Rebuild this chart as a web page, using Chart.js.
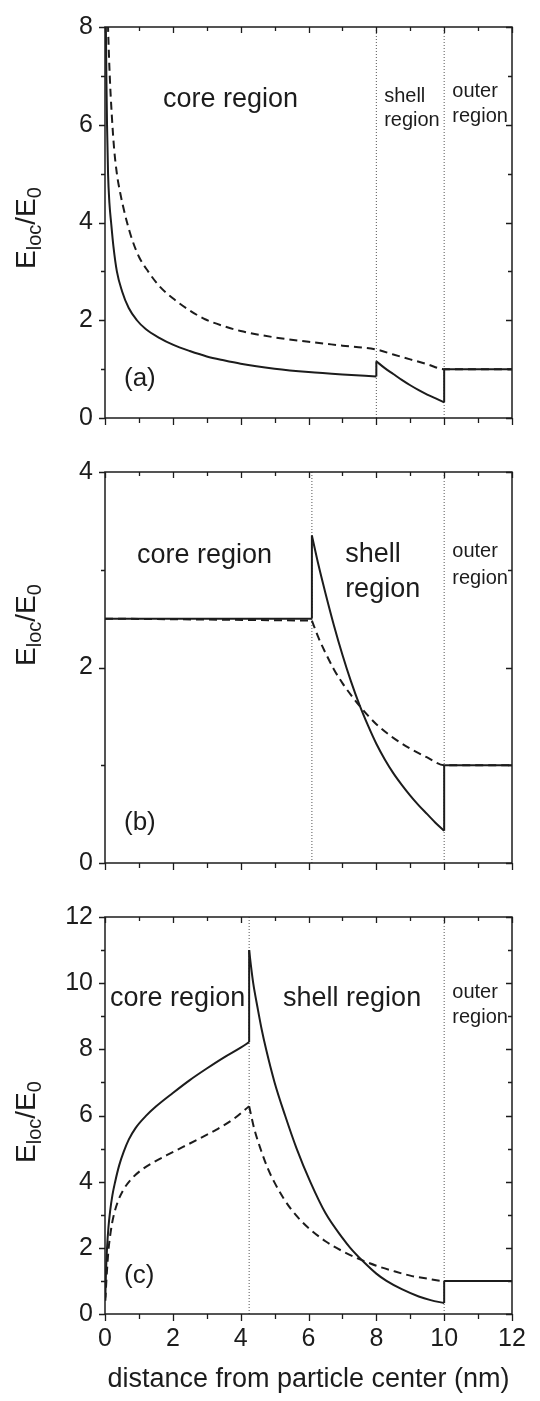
<!DOCTYPE html>
<html>
<head>
<meta charset="utf-8">
<script src="https://cdn.jsdelivr.net/npm/chart.js@4.4.1/dist/chart.umd.min.js"></script>
<style>
  html, body { margin: 0; padding: 0; background: #fff; }
  #wrap { position: relative; width: 540px; height: 1401px; }
  canvas { position: absolute; left: 0; }
</style>
</head>
<body>
<div id="wrap">
  <canvas id="panelA" width="540" height="445" style="top:0px"></canvas>
  <canvas id="panelB" width="540" height="445" style="top:445px"></canvas>
  <canvas id="panelC" width="540" height="511" style="top:890px"></canvas>
</div>
<script>
// tick labels
const xTicks = [0, 2, 4, 6, 8, 10, 12];
const yTicksA = [0, 2, 4, 6, 8];
const yTicksB = [0, 2, 4];
const yTicksC = [0, 2, 4, 6, 8, 10, 12];

// region boundaries (nm)
const aBounds = [8, 10];
const bBounds = [6.1, 10];
const cBounds = [4.25, 10];

// (a)  -- a repeated x marks a step at a region boundary
const aSolidX = [0.02, 0.04, 0.06, 0.09, 0.13, 0.18, 0.25, 0.35, 0.5, 0.7, 0.94, 1.2, 1.6, 2.0, 2.5, 3.0, 3.5, 4.0, 5.0, 6.0, 7.0, 8.0, 8.0, 8.25, 8.5, 8.75, 9.0, 9.25, 9.5, 9.75, 10.0, 10.0, 12.0];
const aSolidY = [8.4, 7.0, 6.0, 5.0, 4.4, 4.0, 3.5, 3.0, 2.6, 2.25, 2.0, 1.82, 1.64, 1.5, 1.37, 1.26, 1.18, 1.11, 1.01, 0.94, 0.89, 0.85, 1.16, 1.02, 0.9, 0.78, 0.67, 0.57, 0.48, 0.4, 0.32, 1.0, 1.0];
const aDashX = [0.07, 0.09, 0.14, 0.2, 0.27, 0.35, 0.45, 0.55, 0.65, 0.8, 1.0, 1.27, 1.6, 2.0, 2.5, 2.95, 3.5, 4.0, 5.0, 6.0, 7.0, 8.0, 8.5, 9.0, 9.5, 10.0, 12.0];
const aDashY = [8.6, 8.0, 7.0, 6.2, 5.5, 5.0, 4.6, 4.28, 4.0, 3.65, 3.3, 3.0, 2.7, 2.45, 2.2, 2.02, 1.88, 1.78, 1.65, 1.56, 1.48, 1.40, 1.3, 1.2, 1.1, 1.0, 1.0];

// (b)
const bSolidX = [0, 6.1, 6.1, 6.3, 6.5, 6.75, 7.0, 7.25, 7.5, 7.75, 8.0, 8.25, 8.5, 8.75, 9.0, 9.25, 9.5, 9.75, 10.0, 10.0, 12.0];
const bSolidY = [2.5, 2.5, 3.35, 3.04, 2.76, 2.43, 2.13, 1.86, 1.62, 1.41, 1.22, 1.06, 0.92, 0.80, 0.69, 0.59, 0.50, 0.41, 0.33, 1.0, 1.0];
const bDashX = [0, 6.1, 6.1, 6.3, 6.5, 6.75, 7.0, 7.25, 7.5, 7.75, 8.0, 8.5, 9.0, 9.5, 10.0, 12.0];
const bDashY = [2.5, 2.48, 2.48, 2.30, 2.15, 1.98, 1.84, 1.72, 1.61, 1.51, 1.42, 1.28, 1.17, 1.08, 1.0, 1.0];

// (c)
const cSolidX = [0.01, 0.03, 0.06, 0.1, 0.15, 0.22, 0.3, 0.42, 0.55, 0.7, 0.9, 1.2, 1.5, 2.0, 2.5, 3.0, 3.5, 4.0, 4.25, 4.25, 4.3, 4.37, 4.5, 4.62, 4.75, 5.0, 5.31, 5.65, 6.05, 6.5, 7.0, 7.23, 7.6, 8.0, 8.3, 8.75, 9.25, 9.6, 10.0, 10.0, 12.0];
const cSolidY = [0.5, 1.3, 2.0, 2.6, 3.1, 3.6, 4.0, 4.5, 4.9, 5.27, 5.62, 5.98, 6.27, 6.68, 7.07, 7.42, 7.75, 8.05, 8.22, 11.0, 10.55, 10.0, 9.25, 8.6, 8.0, 7.0, 6.0, 5.0, 4.0, 3.05, 2.3, 2.0, 1.6, 1.22, 1.0, 0.75, 0.53, 0.42, 0.33, 1.0, 1.0];
const cDashX = [0.01, 0.04, 0.1, 0.17, 0.25, 0.38, 0.54, 0.75, 1.03, 1.4, 1.82, 2.3, 2.8, 3.3, 3.8, 4.25, 4.25, 4.4, 4.6, 4.8, 5.0, 5.25, 5.5, 5.75, 6.0, 6.5, 7.0, 7.5, 8.0, 8.5, 9.0, 9.5, 10.0, 12.0];
const cDashY = [0.4, 1.0, 1.9, 2.5, 2.95, 3.4, 3.75, 4.05, 4.32, 4.57, 4.8, 5.05, 5.31, 5.58, 5.9, 6.28, 6.28, 5.6, 4.95, 4.4, 3.97, 3.52, 3.15, 2.85, 2.6, 2.2, 1.9, 1.66, 1.46, 1.3, 1.16, 1.07, 1.0, 1.0];

const INK = '#1c1c1c';
const FONT = '"Liberation Sans", Arial, Helvetica, sans-serif';

// split a curve into smooth pieces, with the vertical steps as their own pieces
function segments(xs, ys) {
  const segs = [[]];
  xs.forEach((x, i) => {
    if (i > 0 && x === xs[i - 1]) {
      if (ys[i] !== ys[i - 1]) segs.push([{ x, y: ys[i - 1] }, { x, y: ys[i] }]);
      segs.push([]);
    }
    segs[segs.length - 1].push({ x, y: ys[i] });
  });
  return segs.filter(s => s.length > 1);
}

// major ticks plus a minor tick halfway between each pair
function withMinors(major) {
  const out = [];
  major.forEach((v, i) => {
    out.push({ v, major: true });
    if (i < major.length - 1) out.push({ v: (v + major[i + 1]) / 2, major: false });
  });
  return out;
}

// box frame, in/out tick marks, region texts and the subscripted y title
const framePlugin = {
  id: 'frame',
  afterDatasetsDraw(chart, args, opts) {
    const { ctx, chartArea: a, scales: { x, y } } = chart;
    ctx.save();
    ctx.strokeStyle = INK;
    ctx.lineWidth = 1.5;
    ctx.strokeRect(a.left, a.top, a.right - a.left, a.bottom - a.top);

    ctx.lineWidth = 1.3;
    ctx.beginPath();
    withMinors(xTicks).forEach(t => {
      const p = Math.round(x.getPixelForValue(t.v)) + 0.5;
      ctx.moveTo(p, a.bottom); ctx.lineTo(p, a.bottom + (t.major ? 7 : 5));
      ctx.moveTo(p, a.top); ctx.lineTo(p, a.top + (t.major ? 6 : 4));
    });
    withMinors(opts.yTicks).forEach(t => {
      const p = Math.round(y.getPixelForValue(t.v)) + 0.5;
      ctx.moveTo(a.left, p); ctx.lineTo(a.left - (t.major ? 6 : 4), p);
      ctx.moveTo(a.right, p); ctx.lineTo(a.right - (t.major ? 6 : 4), p);
    });
    ctx.stroke();

    ctx.fillStyle = INK;
    ctx.textAlign = 'left';
    ctx.textBaseline = 'middle';
    opts.labels.forEach(l => {
      ctx.font = `${l.size}px ${FONT}`;
      ctx.fillText(l.text, x.getPixelForValue(l.x), y.getPixelForValue(l.y));
    });

    // E_loc / E_0, rotated
    const big = `28px ${FONT}`, small = `20px ${FONT}`;
    const parts = [['E', big, 0], ['loc', small, 6], ['/E', big, 0], ['0', small, 6]];
    ctx.textBaseline = 'alphabetic';
    let w = 0;
    parts.forEach(p => { ctx.font = p[1]; w += ctx.measureText(p[0]).width; });
    ctx.translate(35, opts.titleY);
    ctx.rotate(-Math.PI / 2);
    let cx = -w / 2;
    parts.forEach(p => {
      ctx.font = p[1];
      ctx.fillText(p[0], cx, p[2]);
      cx += ctx.measureText(p[0]).width;
    });
    ctx.restore();
  }
};

function boundaryLines(bounds, yMax) {
  return bounds.map(b => ({
    data: [{ x: b, y: 0 }, { x: b, y: yMax }],
    borderColor: '#555',
    borderWidth: 1,
    borderDash: [1, 2],
    pointRadius: 0,
    showLine: true,
  }));
}

function makePanel(id, cfg) {
  const yMax = cfg.yTicks[cfg.yTicks.length - 1];
  const line = { borderColor: INK, borderWidth: 2, pointRadius: 0, showLine: true, cubicInterpolationMode: 'monotone' };
  const datasets = [
    ...segments(cfg.solidX, cfg.solidY).map(seg => ({ ...line, data: seg })),
    ...segments(cfg.dashX, cfg.dashY).map(seg => ({ ...line, data: seg, borderDash: [8, 5] })),
    ...boundaryLines(cfg.bounds, yMax),
  ];
  return new Chart(document.getElementById(id), {
    type: 'scatter',
    data: { datasets },
    plugins: [framePlugin],
    options: {
      responsive: false,
      animation: false,
      events: [],
      layout: { padding: { top: cfg.padTop, right: 28, bottom: 0, left: 0 } },
      plugins: {
        legend: { display: false },
        tooltip: { enabled: false },
        frame: { yTicks: cfg.yTicks, labels: cfg.labels, titleY: cfg.titleY },
      },
      scales: {
        x: {
          type: 'linear', min: 0, max: 12,
          afterBuildTicks: s => { s.ticks = xTicks.map(v => ({ value: v })); },
          afterFit: s => { s.height = cfg.xHeight; },
          grid: { display: false, drawTicks: false },
          border: { display: false },
          ticks: { display: cfg.xLabels, padding: 10, color: INK, font: { family: FONT, size: 25 } },
          title: {
            display: cfg.xLabels, text: 'distance from particle center (nm)',
            color: INK, font: { family: FONT, size: 27 }, padding: { top: 0, bottom: 5 },
          },
        },
        y: {
          type: 'linear', min: 0, max: yMax,
          afterBuildTicks: s => { s.ticks = cfg.yTicks.map(v => ({ value: v })); },
          afterFit: s => { s.width = 105; },
          grid: { display: false, drawTicks: false },
          border: { display: false },
          ticks: { padding: 12, color: INK, font: { family: FONT, size: 25 } },
        },
      },
    },
  });
}

makePanel('panelA', {
  solidX: aSolidX, solidY: aSolidY, dashX: aDashX, dashY: aDashY,
  bounds: aBounds, yTicks: yTicksA, padTop: 13, xHeight: 26, xLabels: false, titleY: 228,
  labels: [
    { text: 'core region', x: 1.71, y: 6.52, size: 27 },
    { text: 'shell', x: 8.23, y: 6.58, size: 20 },
    { text: 'region', x: 8.23, y: 6.09, size: 20 },
    { text: 'outer', x: 10.24, y: 6.68, size: 20 },
    { text: 'region', x: 10.24, y: 6.17, size: 20 },
    { text: '(a)', x: 0.56, y: 0.81, size: 26 },
  ],
});

makePanel('panelB', {
  solidX: bSolidX, solidY: bSolidY, dashX: bDashX, dashY: bDashY,
  bounds: bBounds, yTicks: yTicksB, padTop: 23, xHeight: 21, xLabels: false, titleY: 180,
  labels: [
    { text: 'core region', x: 0.94, y: 3.15, size: 27 },
    { text: 'shell', x: 7.08, y: 3.16, size: 27 },
    { text: 'region', x: 7.08, y: 2.8, size: 27 },
    { text: 'outer', x: 10.24, y: 3.19, size: 20 },
    { text: 'region', x: 10.24, y: 2.91, size: 20 },
    { text: '(b)', x: 0.56, y: 0.41, size: 26 },
  ],
});

makePanel('panelC', {
  solidX: cSolidX, solidY: cSolidY, dashX: cDashX, dashY: cDashY,
  bounds: cBounds, yTicks: yTicksC, padTop: 18, xHeight: 87, xLabels: true, titleY: 232,
  labels: [
    { text: 'core region', x: 0.15, y: 9.52, size: 27 },
    { text: 'shell region', x: 5.25, y: 9.52, size: 27 },
    { text: 'outer', x: 10.24, y: 9.73, size: 20 },
    { text: 'region', x: 10.24, y: 8.96, size: 20 },
    { text: '(c)', x: 0.56, y: 1.15, size: 26 },
  ],
});
</script>
</body>
</html>
